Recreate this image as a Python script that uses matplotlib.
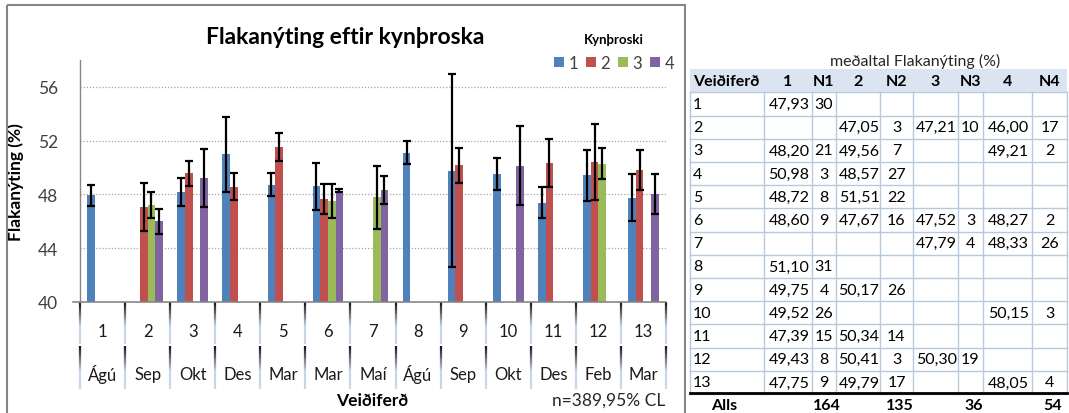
import numpy as np
import matplotlib
matplotlib.use("Agg")
import matplotlib.pyplot as plt
from matplotlib.patches import Rectangle, Patch
from matplotlib.collections import LineCollection
import matplotlib.transforms as mtransforms
import matplotlib.colors as mcolors

plt.rcParams['font.family'] = ['Lato', 'DejaVu Sans']

nan = np.nan
trips = ['1', '2', '3', '4', '5', '6', '7', '8', '9', '10', '11', '12', '13']
months = ['Ágú', 'Sep', 'Okt', 'Des', 'Mar', 'Mar', 'Maí', 'Ágú', 'Sep', 'Okt', 'Des', 'Feb', 'Mar']
series_names = ['1', '2', '3', '4']

mean1 = [47.93, nan, 48.20, 50.98, 48.72, 48.60, nan, 51.10, 49.75, 49.52, 47.39, 49.43, 47.75]
mean2 = [nan, 47.05, 49.56, 48.57, 51.51, 47.67, nan, nan, 50.17, nan, 50.34, 50.41, 49.79]
mean3 = [nan, 47.21, nan, nan, nan, 47.52, 47.79, nan, nan, nan, nan, 50.30, nan]
mean4 = [nan, 46.00, 49.21, nan, nan, 48.27, 48.33, nan, nan, 50.15, nan, nan, 48.05]

err1 = [0.76, nan, 1.05, 2.78, 0.85, 1.72, nan, 0.86, 7.18, 1.16, 1.13, 1.90, 1.74]
err2 = [nan, 1.80, 0.90, 1.02, 1.05, 1.13, nan, nan, 1.30, nan, 1.80, 2.86, 1.48]
err3 = [nan, 0.96, nan, nan, nan, 1.25, 2.35, nan, nan, nan, nan, 1.12, nan]
err4 = [nan, 0.93, 2.14, nan, nan, 0.12, 1.06, nan, nan, 2.96, nan, nan, 1.50]

n1 = [30, None, 21, 3, 8, 9, None, 31, 4, 26, 15, 8, 9]
n2 = [None, 3, 7, 27, 22, 16, None, None, 26, None, 14, 3, 17]
n3 = [None, 10, None, None, None, 3, 4, None, None, None, None, 19, None]
n4 = [None, 17, 2, None, None, 2, 26, None, None, 3, None, None, 4]
totals = [164, 135, 36, 54]

colors = ['#4F81BD', '#C0504D', '#9BBB59', '#8064A2']

W, H = 1069, 414
fig = plt.figure(figsize=(W / 100, H / 100), dpi=100)
fig.patch.set_facecolor('white')

# main chart axes (pixel box: x 80..666, y 61..303)
ax_l, ax_r, ax_t, ax_b = 80, 666, 61, 303
ax = fig.add_axes([ax_l / W, 1 - ax_b / H, (ax_r - ax_l) / W, (ax_b - ax_t) / H])
means = [mean1, mean2, mean3, mean4]
errs = [err1, err2, err3, err4]
x = np.arange(len(trips))
bw = 0.17
offs = [-1.5 * bw, -0.5 * bw, 0.5 * bw, 1.5 * bw]
for i in range(4):
    m = np.array(means[i], dtype=float)
    e = np.array(errs[i], dtype=float)
    ax.bar(x + offs[i], m, width=bw, color=colors[i], zorder=2)
    ax.errorbar(x + offs[i], m, yerr=e, fmt='none', ecolor='black',
                elinewidth=1.6, capsize=3, capthick=1.6, zorder=3)

ax.set_xlim(-0.5, len(trips) - 0.5)
ax.set_ylim(40, 58)
ax.set_yticks([40, 44, 48, 52, 56])
ax.set_yticklabels(['40', '44', '48', '52', '56'])
ax.tick_params(axis='y', length=0, pad=16, labelsize=12.5, labelcolor='#404040')
ax.set_xticks([])
for yv in [44, 48, 52, 56]:
    ax.axhline(yv, color='#a6a6a6', lw=0.9, ls=(0, (1, 1.5)), zorder=1)
for s in ['top', 'right']:
    ax.spines[s].set_visible(False)
ax.spines['left'].set_color('#868686')
ax.spines['bottom'].set_color('#868686')
ax.spines['left'].set_linewidth(1.0)
ax.spines['bottom'].set_linewidth(1.2)
ax.set_ylabel('Flakanýting (%)', fontsize=12.5, fontweight='bold')
ax.yaxis.set_label_coords(-0.0956, 0.5)

# two-level category axis
trans = mtransforms.blended_transform_factory(ax.transData, ax.transAxes)
axh = ax_b - ax_t
def fy(px):
    return (ax_b - px) / axh

dark = np.array(mcolors.to_rgb('#1a1a1a'))
light = np.array(mcolors.to_rgb('#c6d6ec'))
segs, cols = [], []
for k in range(len(trips) + 1):
    xb = k - 0.5
    for (p0, p1) in [(303, 345), (347, 390)]:
        nseg = 16
        for j in range(nseg):
            a = p0 + (p1 - p0) * j / nseg
            b = p0 + (p1 - p0) * (j + 1) / nseg
            segs.append([(xb, fy(a)), (xb, fy(b))])
            t = min(1.0, (j / nseg) / 0.55)
            cols.append(tuple(dark * (1 - t) + light * t))
lc = LineCollection(segs, colors=cols, linewidths=1.6, transform=trans, clip_on=False)
ax.add_collection(lc)
for k in range(len(trips)):
    ax.text(k, fy(332), trips[k], transform=trans, ha='center', va='center',
            fontsize=12, color='#1a1a1a', clip_on=False)
    ax.text(k, fy(375), months[k], transform=trans, ha='center', va='center',
            fontsize=12, color='#1a1a1a', clip_on=False)

# overlay in pixel coordinates
ov = fig.add_axes([0, 0, 1, 1])
ov.set_xlim(0, W)
ov.set_ylim(H, 0)
ov.axis('off')
ov.patch.set_alpha(0)

ov.add_patch(Rectangle((7, 6), 685 - 7, 430, fill=False, ec='#868686', lw=1.5, clip_on=False))
ov.plot([73, 80], [303, 303], color='#868686', lw=1.2)

ov.text(345, 38, 'Flakanýting eftir kynþroska', ha='center', va='center',
        fontsize=16.5, fontweight='bold', color='black')
ov.text(372, 401, 'Veiðiferð', ha='center', va='center', fontsize=12.5, fontweight='bold')
ov.text(665, 401, 'n=389,95% CL', ha='right', va='center', fontsize=12.5, color='#262626')

# legend
handles = [Patch(facecolor=c, edgecolor='none') for c in colors]
leg = fig.legend(handles, series_names, loc='center', ncol=4,
                 bbox_to_anchor=(614 / W, 1 - 53 / H), frameon=False,
                 handlelength=0.6, handleheight=0.6, handletextpad=0.3,
                 columnspacing=0.45, fontsize=12, title='Kynþroski',
                 title_fontproperties={'weight': 'bold', 'size': 9.5},
                 labelcolor='#404040', borderpad=0.2)
leg._legend_box.sep = 7

# table
colb = [690, 764, 812, 836, 880, 913, 958, 983, 1032, 1067]
headers = ['Veiðiferð', '1', 'N1', '2', 'N2', '3', 'N3', '4', 'N4']
row0 = 105.0
rh = 23.2
top = row0 - rh / 2
nrows = len(trips)
bottom = row0 + (nrows - 1) * rh + rh / 2

ov.text(915, 61, 'meðaltal Flakanýting (%)', ha='center', va='center', fontsize=11.5, color='#262626')
ov.add_patch(Rectangle((colb[0], 70), colb[-1] - colb[0], top - 70, fc='#dbe5f1', ec='none'))
for j, h in enumerate(headers):
    if j == 0:
        ov.text(colb[0] + 3, 82, h, ha='left', va='center', fontsize=11.5, fontweight='bold')
    else:
        ov.text((colb[j] + colb[j + 1]) / 2, 82, h, ha='center', va='center',
                fontsize=11.5, fontweight='bold')

gcol = '#b9c9dc'
for r in range(nrows + 1):
    yy = top + r * rh
    ov.plot([colb[0], colb[-1]], [yy, yy], color=gcol, lw=1.0)
for cx in colb:
    ov.plot([cx, cx], [top, bottom], color=gcol, lw=1.0)
ov.plot([colb[0], colb[-1]], [bottom - 1, bottom - 1], color='black', lw=2.0)

ns = [n1, n2, n3, n4]
def fmt(v):
    return ('%.2f' % v).replace('.', ',')
for r in range(nrows):
    yy = row0 + r * rh
    ov.text(colb[0] + 3, yy, trips[r], ha='left', va='center', fontsize=11.5)
    for s in range(4):
        mv = means[s][r]
        nv = ns[s][r]
        cm = 1 + 2 * s
        if not np.isnan(mv):
            ov.text((colb[cm] + colb[cm + 1]) / 2 + 1, yy, fmt(mv), ha='center', va='center', fontsize=11.5)
        if nv is not None:
            ov.text((colb[cm + 1] + colb[cm + 2]) / 2, yy, str(nv), ha='center', va='center', fontsize=11.5)

ya = 406
ov.text((colb[0] + colb[1]) / 2 - 3, ya, 'Alls', ha='center', va='center', fontsize=11.5, fontweight='bold')
for s in range(4):
    cn = 2 + 2 * s
    ov.text((colb[cn] + colb[cn + 1]) / 2 + 3, ya, str(totals[s]), ha='center', va='center',
            fontsize=11.5, fontweight='bold')

fig.savefig('out.png', dpi=100)
